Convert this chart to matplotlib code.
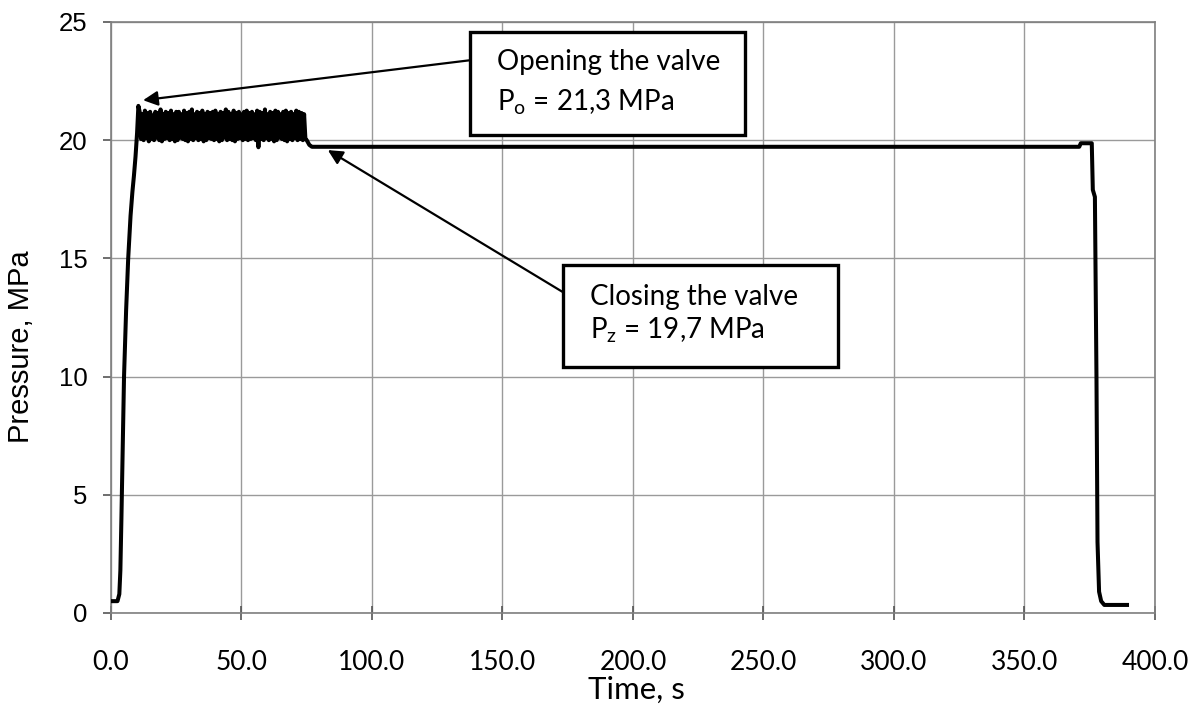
"""Pressure vs time trace for a relief valve test, with opening/closing notes."""

import matplotlib

matplotlib.use("Agg")
import matplotlib.pyplot as plt
import numpy as np
from matplotlib.patches import Rectangle

plt.rcParams["font.family"] = ["Lato", "DejaVu Sans"]
plt.rcParams["mathtext.fontset"] = "custom"
plt.rcParams["mathtext.rm"] = "Lato"

# pump start-up ramp (time s, pressure MPa)
rise_t = [0.4, 2.5, 3.2, 3.6, 4.0, 4.4, 5.0, 5.8, 6.6, 7.5, 8.2, 8.8, 9.4, 10.0, 10.5]
rise_p = [0.5, 0.5, 0.8, 1.8, 4.0, 6.5, 10.0, 12.8, 15.0, 16.8, 17.8, 18.5, 19.3, 20.3, 21.45]

# valve chattering between opening and reseat pressure, 11 s .. 74 s
chatter_high = [
    21.2, 21.1, 21.25, 21.15, 21.2, 21.05, 21.2, 21.15, 21.3, 21.1, 21.2, 21.15,
    21.25, 21.1, 21.2, 21.2, 21.1, 21.25, 21.15, 21.2, 21.3, 21.1, 21.2, 21.15,
    21.25, 21.1, 21.2, 21.15, 21.2, 21.25, 21.1, 21.2, 21.15, 21.3, 21.2, 21.1,
    21.25, 21.15, 21.2, 21.1, 21.2, 21.25, 21.15, 21.2, 21.1, 21.25, 21.2, 21.15,
    21.3, 21.1, 21.2, 21.15, 21.25, 21.2, 21.1, 21.2, 21.25, 21.15, 21.2, 21.1,
    21.25, 21.2, 21.15, 21.1,
]
chatter_low = [
    20.05, 20.0, 20.1, 19.95, 20.05, 20.0, 20.1, 20.0, 19.95, 20.05, 20.1, 20.0,
    20.05, 19.95, 20.0, 20.1, 20.05, 20.0, 19.95, 20.05, 20.0, 20.1, 20.0, 20.05,
    19.95, 20.0, 20.1, 20.05, 20.0, 20.05, 19.95, 20.0, 20.1, 20.0, 20.05, 20.0,
    19.95, 20.05, 20.1, 20.0, 20.05, 20.0, 20.05, 20.1, 20.0, 19.7, 20.05, 20.0,
    20.1, 20.0, 20.05, 19.95, 20.0, 20.1, 20.05, 20.0, 19.95, 20.05, 20.0, 20.1,
    20.0, 20.05, 20.0, 20.05,
]
chatter_span = (11.0, 74.5)

# reseat, holding and depressurisation
tail_t = [75.0, 76.0, 77.0, 100.0, 200.0, 300.0, 371.0, 371.6, 375.8, 376.2,
          377.0, 377.6, 378.0, 378.6, 379.4, 380.6, 389.3]
tail_p = [20.0, 19.8, 19.72, 19.72, 19.72, 19.72, 19.72, 19.87, 19.87, 17.9,
          17.6, 10.0, 3.0, 0.9, 0.5, 0.34, 0.34]

x_ticks = [0, 50, 100, 150, 200, 250, 300, 350, 400]
y_ticks = [0, 5, 10, 15, 20, 25]

chatter_p = [v for pair in zip(chatter_high, chatter_low) for v in pair]
chatter_t = np.linspace(chatter_span[0], chatter_span[1], len(chatter_p))
time = np.concatenate([rise_t, chatter_t, tail_t])
pressure = np.concatenate([rise_p, chatter_p, tail_p])

fig = plt.figure(figsize=(11.92, 7.04), dpi=100)
ax = fig.add_axes([0.0931, 0.1293, 0.8758, 0.8395])

ax.plot(time, pressure, color="black", linewidth=2.9, solid_joinstyle="round", zorder=3)

ax.set_xlim(0, 400)
ax.set_ylim(0, 25)
ax.set_xticks(x_ticks)
ax.set_xticklabels([f"{v:.1f}" for v in x_ticks])
ax.set_yticks(y_ticks)
ax.set_yticklabels([str(v) for v in y_ticks], family="Liberation Sans")
ax.grid(True, color="#9a9a9a", linewidth=1.0)
ax.set_axisbelow(True)
for side in ax.spines.values():
    side.set_color("#7f7f7f")
    side.set_linewidth(1.2)
ax.tick_params(axis="x", direction="inout", length=10, width=1.2, color="#555555",
               labelsize=19, pad=22)
ax.tick_params(axis="y", direction="out", length=6, width=1.2, color="#555555",
               labelsize=18.5, pad=11)
ax.set_xlabel("Time, s", fontsize=22.5)
ax.set_ylabel("Pressure, MPa", fontsize=21, family="Liberation Sans")
ax.xaxis.set_label_coords(0.503, -0.107)
ax.yaxis.set_label_coords(-0.0725, 0.45)

# annotation boxes
arrow_style = dict(arrowstyle="-|>", color="black", lw=1.6, mutation_scale=22,
                   shrinkA=0, shrinkB=0)
ax.annotate("", xy=(12.3, 21.69), xytext=(137.5, 23.38), arrowprops=arrow_style, zorder=4)
ax.annotate("", xy=(83.1, 19.58), xytext=(173.2, 13.57), arrowprops=arrow_style, zorder=4)

ax.add_patch(Rectangle((137.5, 20.21), 105.4, 4.36, facecolor="white", edgecolor="black",
                       linewidth=2.4, zorder=5, clip_on=False))
ax.add_patch(Rectangle((173.2, 10.40), 105.3, 4.31, facecolor="white", edgecolor="black",
                       linewidth=2.4, zorder=5, clip_on=False))

ax.text(147.9, 23.3, "Opening the valve", fontsize=20, va="center", ha="left", zorder=6)
ax.text(147.9, 21.6, r"P$_{\rm o}$ = 21,3 MPa", fontsize=20, va="center", ha="left", zorder=6)
ax.text(183.5, 13.36, "Closing the valve", fontsize=20, va="center", ha="left", zorder=6)
ax.text(183.5, 11.97, r"P$_{\rm z}$ = 19,7 MPa", fontsize=20, va="center", ha="left", zorder=6)

fig.savefig("out.png", dpi=100, facecolor="white")
